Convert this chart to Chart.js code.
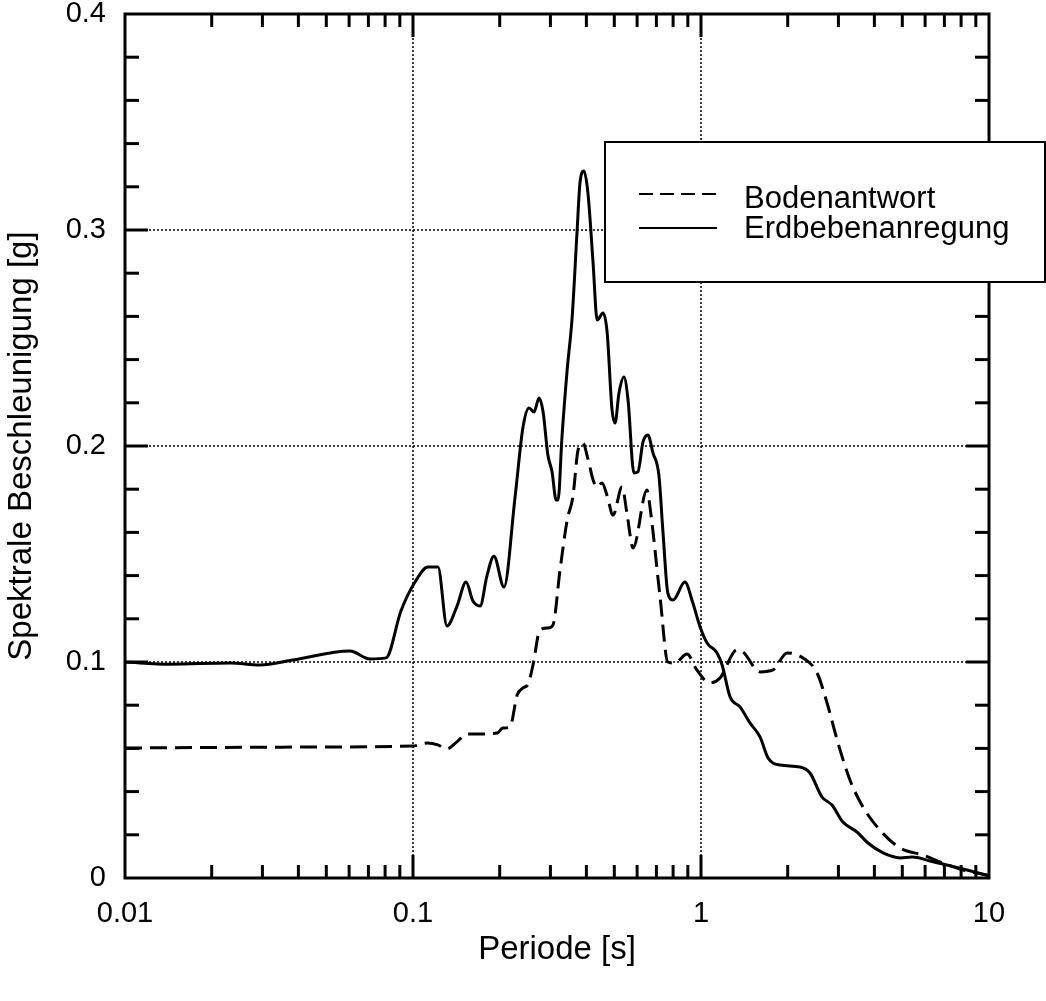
<!DOCTYPE html>
<html>
<head>
<meta charset="utf-8">
<script src="https://cdn.jsdelivr.net/npm/chart.js@4"></script>
<style>
  html, body { margin: 0; padding: 0; background: #fff; }
  #wrap { width: 1046px; height: 1001px; }
</style>
</head>
<body>
<div id="wrap"><canvas id="chart"></canvas></div>
<script>
// Periode [s] / Spektrale Beschleunigung [g]
const bodenPeriod = [0.01, 0.0405, 0.1, 0.112, 0.122, 0.131, 0.142, 0.154, 0.171, 0.196,
  0.205, 0.217, 0.230, 0.241, 0.251, 0.261, 0.276, 0.294, 0.306, 0.324,
  0.343, 0.359, 0.374, 0.389, 0.405, 0.422, 0.436, 0.453, 0.472, 0.495,
  0.532, 0.553, 0.581, 0.649, 0.665, 0.721, 0.767, 0.812, 0.894, 0.968,
  1.074, 1.164, 1.334, 1.40, 1.603, 1.778, 1.99, 2.26, 2.53, 2.74,
  2.99, 3.29, 3.65, 4.18, 4.91, 5.90, 6.92, 8.13, 10];
const bodenAcc = [0.0602, 0.0606, 0.0611, 0.0625, 0.0616, 0.0597, 0.063, 0.0667, 0.0667, 0.0671,
  0.0694, 0.0699, 0.0847, 0.088, 0.0898, 0.0986, 0.1148, 0.1157, 0.117, 0.1426,
  0.1657, 0.1764, 0.198, 0.2014, 0.194, 0.1843, 0.181, 0.1829, 0.177, 0.168,
  0.181, 0.169, 0.1528, 0.1796, 0.1718, 0.130, 0.100, 0.0995, 0.1037, 0.0963,
  0.0903, 0.0926, 0.1056, 0.1046, 0.0954, 0.0963, 0.1042, 0.1019, 0.0949, 0.081,
  0.0625, 0.0454, 0.0329, 0.0222, 0.0139, 0.0106, 0.0069, 0.0037, 0.0012];

const erdPeriod = [0.01, 0.0143, 0.0232, 0.0294, 0.0383, 0.0604, 0.0709, 0.0806, 0.0908, 0.1016,
  0.1127, 0.1221, 0.1312, 0.1422, 0.1528, 0.1615, 0.171, 0.1807, 0.191, 0.207,
  0.226, 0.241, 0.253, 0.263, 0.274, 0.283, 0.294, 0.304, 0.314, 0.319,
  0.329, 0.343, 0.357, 0.371, 0.380, 0.392, 0.405, 0.422, 0.436, 0.457,
  0.472, 0.491, 0.503, 0.519, 0.540, 0.558, 0.585, 0.604, 0.629, 0.654,
  0.681, 0.714, 0.738, 0.767, 0.800, 0.879, 0.937, 0.993, 1.05, 1.137,
  1.184, 1.262, 1.366, 1.479, 1.603, 1.709, 1.88, 2.207, 2.39, 2.63,
  2.85, 3.11, 3.48, 3.80, 4.29, 4.91, 5.41, 6.24, 7.14, 8.39, 10];
const erdAcc = [0.100, 0.099, 0.0995, 0.0986, 0.1009, 0.1051, 0.1014, 0.1019, 0.1236, 0.137,
  0.144, 0.144, 0.1167, 0.1259, 0.137, 0.1282, 0.1259, 0.140, 0.149, 0.1347,
  0.176, 0.2088, 0.2176, 0.2157, 0.2222, 0.2157, 0.1958, 0.188, 0.175, 0.175,
  0.204, 0.2352, 0.2597, 0.2986, 0.3218, 0.3273, 0.3171, 0.2847, 0.2583, 0.2616,
  0.2528, 0.2167, 0.2106, 0.2245, 0.2319, 0.2213, 0.1875, 0.188, 0.2019, 0.2051,
  0.1968, 0.1866, 0.160, 0.1319, 0.1287, 0.137, 0.1273, 0.1162, 0.1088, 0.1042,
  0.0986, 0.0838, 0.0792, 0.0718, 0.0653, 0.0556, 0.0523, 0.0514, 0.0486, 0.0375,
  0.0338, 0.0259, 0.0213, 0.0162, 0.0116, 0.0093, 0.0097, 0.0079, 0.006, 0.0037, 0.001];

const seriesLabels = ['Bodenantwort', 'Erdbebenanregung'];
const xTickValues = [0.01, 0.1, 1, 10];
const yTickValues = [0, 0.1, 0.2, 0.3, 0.4];
const yMinorStep = 0.02;

const FONT = '"Liberation Sans", Arial, Helvetica, sans-serif';

function pts(xs, ys) {
  return xs.map((v, i) => ({ x: v, y: ys[i] }));
}

// dotted grid, box with inward ticks, and the boxed legend
const frame = {
  id: 'frame',
  beforeDatasetsDraw(chart) {
    const { ctx, chartArea: a, scales: { x, y } } = chart;
    ctx.save();
    ctx.strokeStyle = '#000';
    ctx.lineWidth = 1.5;
    ctx.setLineDash([2, 2]);
    xTickValues.slice(1, -1).forEach((v) => {
      const px = Math.round(x.getPixelForValue(v));
      ctx.beginPath(); ctx.moveTo(px, a.top); ctx.lineTo(px, a.bottom); ctx.stroke();
    });
    yTickValues.slice(1, -1).forEach((v) => {
      const py = Math.round(y.getPixelForValue(v));
      ctx.beginPath(); ctx.moveTo(a.left, py); ctx.lineTo(a.right, py); ctx.stroke();
    });
    ctx.restore();
  },
  afterDatasetsDraw(chart) {
    const { ctx, chartArea: a, scales: { x, y } } = chart;
    ctx.save();
    ctx.strokeStyle = '#000';
    ctx.setLineDash([]);
    ctx.lineWidth = 3;
    ctx.lineCap = 'butt';

    // x ticks, top and bottom
    const xMinor = [];
    xTickValues.slice(0, -1).forEach((d) => {
      for (let m = 2; m <= 9; m++) xMinor.push(Number((m * d).toPrecision(3)));
    });
    const tick = (x1, y1, x2, y2) => { ctx.beginPath(); ctx.moveTo(x1, y1); ctx.lineTo(x2, y2); ctx.stroke(); };
    xMinor.forEach((v) => {
      const px = x.getPixelForValue(v);
      tick(px, a.bottom, px, a.bottom - 13);
      tick(px, a.top, px, a.top + 13);
    });
    xTickValues.slice(1, -1).forEach((v) => {
      const px = x.getPixelForValue(v);
      tick(px, a.bottom, px, a.bottom - 23);
      tick(px, a.top, px, a.top + 23);
    });
    // y ticks, left and right
    const nMinor = Math.round((yTickValues[yTickValues.length - 1] - yTickValues[0]) / yMinorStep);
    for (let i = 1; i < nMinor; i++) {
      const v = yTickValues[0] + i * yMinorStep;
      const py = y.getPixelForValue(v);
      const len = i % 5 === 0 ? 23 : 14;
      tick(a.left, py, a.left + len, py);
      tick(a.right, py, a.right - len, py);
    }
    // frame
    ctx.strokeRect(a.left, a.top, a.right - a.left, a.bottom - a.top);
    ctx.restore();
  },
  afterDraw(chart) {
    const { ctx } = chart;
    const box = { left: 605, top: 142, width: 440, height: 140 };
    ctx.save();
    ctx.fillStyle = '#fff';
    ctx.fillRect(box.left, box.top, box.width, box.height);
    ctx.strokeStyle = '#000';
    ctx.lineWidth = 2;
    ctx.strokeRect(box.left, box.top, box.width, box.height);
    ctx.font = '31px ' + FONT;
    ctx.fillStyle = '#000';
    ctx.textBaseline = 'alphabetic';
    chart.data.datasets.forEach((ds, i) => {
      const ly = 194 + i * 34;
      ctx.lineWidth = 2;
      ctx.setLineDash(ds.borderDash ? [14, 7] : []);
      ctx.beginPath(); ctx.moveTo(639, ly); ctx.lineTo(717, ly); ctx.stroke();
      ctx.setLineDash([]);
      ctx.fillText(ds.label, 744, 208 + i * 30);
    });
    ctx.restore();
  }
};

new Chart(document.getElementById('chart'), {
  type: 'scatter',
  data: {
    datasets: [
      {
        label: seriesLabels[0],
        data: pts(bodenPeriod, bodenAcc),
        showLine: true,
        borderColor: '#000',
        borderWidth: 3,
        borderDash: [17, 8],
        pointRadius: 0,
        cubicInterpolationMode: 'monotone'
      },
      {
        label: seriesLabels[1],
        data: pts(erdPeriod, erdAcc),
        showLine: true,
        borderColor: '#000',
        borderWidth: 3,
        pointRadius: 0,
        cubicInterpolationMode: 'monotone'
      }
    ]
  },
  options: {
    responsive: true,
    maintainAspectRatio: false,
    animation: false,
    devicePixelRatio: 1,
    layout: { padding: { top: 14, right: 57, left: 0, bottom: 0 } },
    plugins: { legend: { display: false }, tooltip: { enabled: false } },
    scales: {
      x: {
        type: 'logarithmic',
        min: xTickValues[0],
        max: xTickValues[xTickValues.length - 1],
        afterBuildTicks: (s) => { s.ticks = xTickValues.map((v) => ({ value: v })); },
        afterFit: (s) => { s.height = 123; s.paddingLeft = 0; s.paddingRight = 0; },
        grid: { display: false, drawTicks: false },
        border: { display: false },
        ticks: {
          autoSkip: false,
          maxRotation: 0,
          padding: 19,
          color: '#000',
          font: { family: FONT, size: 29 },
          callback: (v) => String(v)
        },
        title: {
          display: true,
          text: 'Periode [s]',
          color: '#000',
          font: { family: FONT, size: 33 },
          padding: { top: 0, bottom: 31 }
        }
      },
      y: {
        min: yTickValues[0],
        max: yTickValues[yTickValues.length - 1],
        afterBuildTicks: (s) => { s.ticks = yTickValues.map((v) => ({ value: v })); },
        afterFit: (s) => { s.width = 125; s.paddingTop = 0; s.paddingBottom = 0; },
        grid: { display: false, drawTicks: false },
        border: { display: false },
        ticks: {
          padding: 19,
          color: '#000',
          font: { family: FONT, size: 29 },
          callback: (v) => (v === 0 ? '0' : v.toFixed(1))
        },
        title: {
          display: true,
          text: 'Spektrale Beschleunigung [g]',
          color: '#000',
          font: { family: FONT, size: 33 },
          padding: { top: 2, bottom: 0 }
        }
      }
    }
  },
  plugins: [frame]
});
</script>
</body>
</html>
